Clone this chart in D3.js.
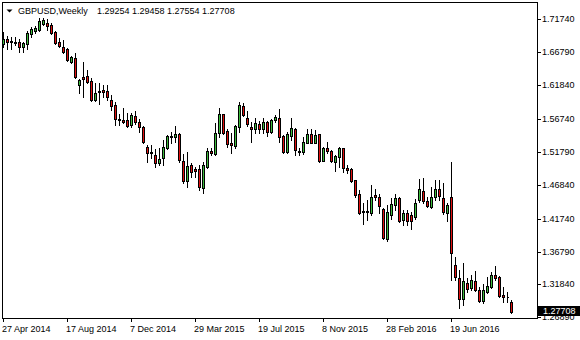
<!DOCTYPE html>
<html>
<head>
<meta charset="utf-8">
<script src="https://cdn.jsdelivr.net/npm/d3@7"></script>
<style>
  body { margin: 0; background: #fff; }
  text { font-family: "Liberation Sans", Arial, sans-serif; font-size: 9px; }
</style>
</head>
<body>
<div id="chart"></div>
<script>
// weekly GBPUSD bars, first bar week of 27 Apr 2014
var firstWeek = "2014-04-27";

var open = [1.6803,1.6878,1.6848,1.6833,1.6833,1.6758,1.6803,1.6953,1.6998,1.7013,
  1.7104,1.7119,1.7089,1.6983,1.6833,1.6758,1.6728,1.6532,1.6592,1.6186,
  1.6306,1.6321,1.6246,1.5960,1.6095,1.6111,1.6095,1.5960,1.5885,1.5674,
  1.5659,1.5659,1.5584,1.5719,1.5629,1.5554,1.5253,1.5177,1.5132,1.5012,
  1.5087,1.5238,1.5418,1.5403,1.5448,1.5042,1.4741,1.4982,1.4922,1.4922,
  1.4636,1.4952,1.5192,1.5147,1.5463,1.5749,1.5493,1.5313,1.5268,1.5554,
  1.5870,1.5689,1.5554,1.5524,1.5599,1.5524,1.5629,1.5478,1.5659,1.5689,
  1.5418,1.5177,1.5418,1.5524,1.5192,1.5177,1.5313,1.5448,1.5313,1.5448,
  1.5042,1.5238,1.5192,1.5027,1.5102,1.5238,1.4937,1.4922,1.4756,1.4545,
  1.4274,1.4274,1.4259,1.4530,1.4500,1.4320,1.3868,1.4229,1.4380,1.4485,
  1.4154,1.4259,1.4229,1.4199,1.4455,1.4590,1.4440,1.4350,1.4500,1.4621,
  1.4485,1.4259,1.4500,1.3476,1.3281,1.2965,1.3206,1.3131,1.3236,1.3100,
  1.2935,1.3070,1.3146,1.3326,1.3296,1.3025,1.2995,1.29254];

var high = [1.6983,1.6923,1.6908,1.6908,1.6878,1.6833,1.6998,1.7059,1.7074,1.7194,
  1.7194,1.7179,1.7119,1.6998,1.6893,1.6863,1.6743,1.6622,1.6667,1.6276,
  1.6532,1.6412,1.6291,1.6216,1.6216,1.6186,1.6186,1.6035,1.5930,1.5749,
  1.5840,1.5764,1.5764,1.5794,1.5674,1.5569,1.5283,1.5283,1.5223,1.5238,
  1.5358,1.5433,1.5478,1.5569,1.5463,1.5147,1.5177,1.5012,1.4952,1.4982,
  1.5027,1.5238,1.5238,1.5614,1.5840,1.5749,1.5524,1.5463,1.5584,1.5930,
  1.5915,1.5794,1.5629,1.5689,1.5644,1.5689,1.5644,1.5674,1.5734,1.5825,
  1.5433,1.5478,1.5689,1.5539,1.5238,1.5403,1.5524,1.5524,1.5508,1.5448,
  1.5253,1.5328,1.5207,1.5132,1.5253,1.5238,1.4982,1.4937,1.4756,1.4606,
  1.4410,1.4455,1.4681,1.4621,1.4545,1.4335,1.4380,1.4485,1.4545,1.4500,
  1.4305,1.4305,1.4274,1.4470,1.4771,1.4786,1.4500,1.4651,1.4756,1.4756,
  1.4711,1.4410,1.5027,1.3601,1.3401,1.3507,1.3281,1.3326,1.3386,1.3146,
  1.3191,1.3296,1.3371,1.3462,1.3311,1.3146,1.3070,1.29458];

var low = [1.6758,1.6728,1.6728,1.6788,1.6682,1.6682,1.6728,1.6908,1.6968,1.6998,
  1.7089,1.7013,1.6953,1.6803,1.6758,1.6667,1.6547,1.6517,1.6291,1.6065,
  1.6005,1.6216,1.5945,1.5945,1.5900,1.6005,1.5960,1.5810,1.5584,1.5584,
  1.5614,1.5554,1.5554,1.5599,1.5478,1.5313,1.5027,1.5087,1.4952,1.4982,
  1.4982,1.5223,1.5313,1.5328,1.5027,1.4711,1.4651,1.4801,1.4801,1.4606,
  1.4560,1.4937,1.5132,1.5132,1.5403,1.5448,1.5253,1.5162,1.5238,1.5478,
  1.5719,1.5569,1.5328,1.5463,1.5463,1.5463,1.5418,1.5463,1.5629,1.5328,
  1.5162,1.5162,1.5358,1.5132,1.5132,1.5147,1.5313,1.5313,1.5313,1.5027,
  1.5042,1.5162,1.5027,1.4891,1.4952,1.4876,1.4861,1.4726,1.4500,1.4250,
  1.4094,1.4154,1.4229,1.4455,1.4259,1.3868,1.3838,1.4169,1.4305,1.4124,
  1.4079,1.4079,1.4019,1.4169,1.4425,1.4410,1.4350,1.4335,1.4455,1.4455,
  1.4244,1.4139,1.3251,1.3251,1.2830,1.2875,1.3070,1.3100,1.3085,1.2920,
  1.2905,1.3055,1.3131,1.3251,1.2995,1.2920,1.2920,1.27554];

var close = [1.6878,1.6833,1.6826,1.6818,1.6758,1.6818,1.6968,1.7029,1.7044,1.7149,
  1.7164,1.7074,1.6968,1.6818,1.6773,1.6682,1.6562,1.6607,1.6306,1.6261,
  1.6276,1.6231,1.5960,1.6065,1.6080,1.6080,1.6005,1.5870,1.5674,1.5659,
  1.5629,1.5569,1.5734,1.5629,1.5554,1.5328,1.5162,1.5162,1.5012,1.5072,
  1.5253,1.5418,1.5403,1.5448,1.5057,1.4741,1.4967,1.4876,1.4891,1.4651,
  1.4982,1.5192,1.5162,1.5463,1.5749,1.5463,1.5298,1.5283,1.5569,1.5885,
  1.5734,1.5599,1.5524,1.5614,1.5524,1.5629,1.5478,1.5659,1.5704,1.5403,
  1.5177,1.5448,1.5539,1.5207,1.5177,1.5328,1.5448,1.5313,1.5433,1.5042,
  1.5238,1.5192,1.5042,1.5117,1.5238,1.4937,1.4906,1.4741,1.4530,1.4259,
  1.4289,1.4289,1.4500,1.4500,1.4365,1.3883,1.4274,1.4395,1.4485,1.4139,
  1.4259,1.4139,1.4139,1.4410,1.4621,1.4440,1.4365,1.4500,1.4621,1.4515,
  1.4274,1.4380,1.3657,1.3300,1.2965,1.3236,1.3115,1.3251,1.3100,1.2935,
  1.3100,1.3161,1.3326,1.3281,1.3010,1.2995,1.2988,1.27708];

var dateLabels = ["27 Apr 2014","17 Aug 2014","7 Dec 2014","29 Mar 2015",
  "19 Jul 2015","8 Nov 2015","28 Feb 2016","19 Jun 2016"];
var priceLabels = ["1.71740","1.66790","1.61840","1.56740","1.51790",
  "1.46840","1.41740","1.36790","1.31840","1.26890"];

var symbol = "GBPUSD,Weekly";

var width = 580, height = 340;
var plotRight = 537, plotBottom = 318;

var svg = d3.select("#chart").append("svg")
    .attr("width", width)
    .attr("height", height);

var start = d3.utcParse("%Y-%m-%d")(firstWeek);
var data = open.map(function(o, i) {
  return { date: d3.utcWeek.offset(start, i), o: o, h: high[i], l: low[i], c: close[i] };
});

// 4 px per weekly bar
var x = d3.scaleUtc()
    .domain([start, d3.utcWeek.offset(start, data.length - 1)])
    .range([3, 3 + 4 * (data.length - 1)])
    .interpolate(d3.interpolateRound);

var y = d3.scaleLinear()
    .domain([1.2689, 1.74645])
    .range([317.3, 0])
    .interpolate(d3.interpolateRound);

// candles
var candles = svg.append("g")
    .attr("shape-rendering", "crispEdges");

candles.selectAll(".wick")
  .data(data)
  .enter().append("line")
    .attr("class", "wick")
    .attr("x1", function(d) { return x(d.date) + 0.5; })
    .attr("x2", function(d) { return x(d.date) + 0.5; })
    .attr("y1", function(d) { return y(d.h); })
    .attr("y2", function(d) { return y(d.l) + 1; })
    .attr("stroke", "#000");

candles.selectAll(".body")
  .data(data)
  .enter().append("path")
    .attr("class", "body")
    .attr("d", function(d) {
      var cx = x(d.date) + 0.5;
      var top = y(Math.max(d.o, d.c)) + 0.5;
      var bot = y(Math.min(d.o, d.c)) + 0.5;
      return "M" + (cx - 1) + "," + top + "H" + (cx + 1) + "V" + bot + "H" + (cx - 1) + "Z";
    })
    .attr("fill", function(d) { return d.c >= d.o ? "#3cba3c" : "#e01010"; })
    .attr("stroke", "#000");

// frame
svg.append("rect")
    .attr("x", 2.5)
    .attr("y", 2.5)
    .attr("width", plotRight - 2)
    .attr("height", plotBottom - 2)
    .attr("fill", "none")
    .attr("stroke", "#000")
    .attr("shape-rendering", "crispEdges");

// price axis
var yAxis = svg.append("g")
    .attr("transform", "translate(" + plotRight + ",0)")
    .call(d3.axisRight(y)
      .tickValues(priceLabels.map(Number))
      .tickFormat(d3.format(".5f"))
      .tickSize(4)
      .tickPadding(1));
yAxis.select(".domain").remove();
yAxis.selectAll("text")
    .attr("font-size", null)
    .attr("font-family", null)
    .attr("fill", "#000");
yAxis.selectAll("line").attr("shape-rendering", "crispEdges");

// time axis
var parseLabel = d3.utcParse("%d %b %Y");
var xAxis = svg.append("g")
    .attr("transform", "translate(0," + plotBottom + ")")
    .call(d3.axisBottom(x)
      .tickValues(dateLabels.map(function(s) { return parseLabel(s); }))
      .tickFormat(d3.utcFormat("%-d %b %Y"))
      .tickSize(4));
xAxis.select(".domain").remove();
xAxis.selectAll("text")
    .attr("font-size", null)
    .attr("font-family", null)
    .attr("text-anchor", "start")
    .attr("x", -1.5)
    .attr("y", 13.5)
    .attr("dy", null)
    .attr("fill", "#000");
xAxis.selectAll("line").attr("shape-rendering", "crispEdges");

// current price label (drawn over the lowest scale label, as in the terminal)
var last = data[data.length - 1];
var yc = y(last.c);
svg.append("rect")
    .attr("x", 538)
    .attr("y", yc - 6)
    .attr("width", 42)
    .attr("height", 10)
    .attr("fill", "#000");
svg.append("text")
    .attr("x", 543)
    .attr("y", yc + 2.3)
    .attr("fill", "#fff")
    .text(d3.format(".5f")(last.c));

// header
svg.append("path")
    .attr("d", "M6.5,9.5L12.5,9.5L9.5,12.5Z")
    .attr("fill", "#000");
svg.append("text")
    .attr("x", 18)
    .attr("y", 14)
    .attr("fill", "#000")
    .text(symbol);
svg.append("text")
    .attr("x", 97)
    .attr("y", 14)
    .attr("fill", "#000")
    .text([last.o, last.h, last.l, last.c].map(d3.format(".5f")).join(" "));
</script>
</body>
</html>
